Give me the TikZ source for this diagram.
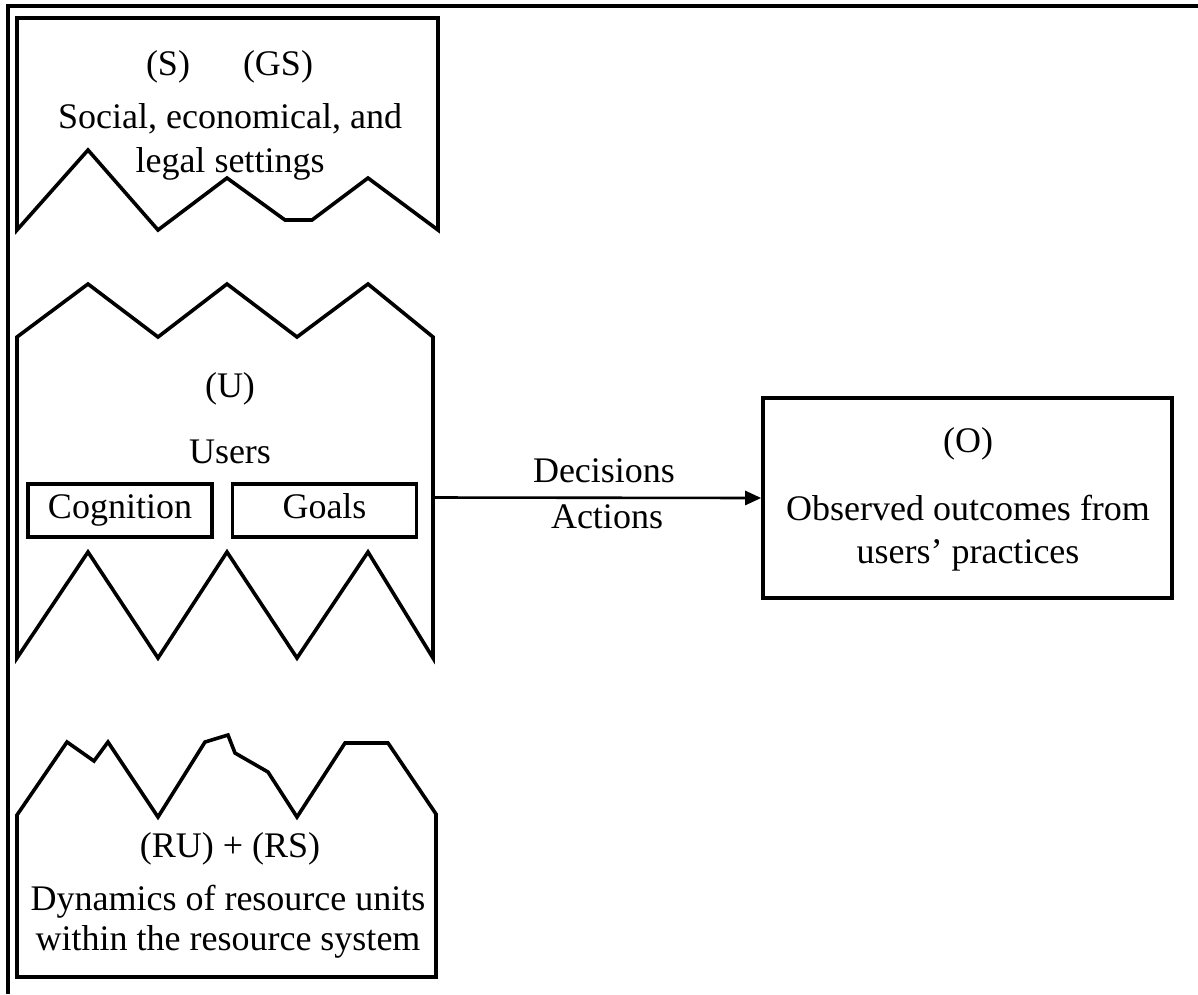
\documentclass[tikz,border=0pt]{standalone}
\usepackage{fontspec}
\setmainfont{Liberation Serif}
\usetikzlibrary{arrows.meta}
\begin{document}
\begin{tikzpicture}[x=1pt,y=-1pt,
  outline/.style={line width=3.6pt, line join=miter},
  txt/.style={font=\fontsize{36}{44}\selectfont, inner sep=0pt, anchor=base},
  subbox/.style={draw, line width=3.6pt, minimum width=184pt, minimum height=53pt,
    inner sep=0pt, text height=25pt, text depth=10pt, font=\fontsize{36}{44}\selectfont},
]
\useasboundingbox (0,0) rectangle (1198,994);

% frame along the top and left
\draw[line width=3.2pt] (8,994) -- (8,6) -- (1198,6);

% settings (top) with a jagged lower edge
\draw[outline] (17,230) -- (17,18) -- (438,18) -- (438,230) -- (368,178) -- (312,220)
  -- (285,220) -- (227,178) -- (158,230) -- (88,150) -- cycle;
\node[txt] (s)  at (168,75) {(S)};
\node[txt] (gs) at (278,75) {(GS)};
\node[txt] (set1) at (230,128) {Social, economical, and};
\node[txt] (set2) at (230,172) {legal settings};

% users, jagged at top and bottom
\draw[outline] (17,658) -- (17,337) -- (88,284) -- (158,337) -- (227,284) -- (297,337)
  -- (368,284) -- (433,337) -- (433,658) -- (368,552) -- (297,658) -- (227,552)
  -- (158,658) -- (88,552) -- cycle;
\node[minimum width=416pt, minimum height=321pt, inner sep=0pt, outer sep=0pt] (users) at (225,497.5) {};
\node[txt] (u) at (230,397) {(U)};
\node[txt] (ulabel) at (230,463) {Users};
\node[subbox] (cog) at (120,510.5) {Cognition};
\node[subbox] (goals) at (324.5,510.5) {Goals};

% resource system with an irregular ridge
\draw[outline] (17,977) -- (17,815) -- (67,742) -- (94,761) -- (108,742) -- (158,817)
  -- (205,742) -- (228,735) -- (235,753) -- (268,772) -- (297,817) -- (345,743)
  -- (388,743) -- (436,814) -- (436,977) -- cycle;
\node[txt] (rurs) at (230,857) {(RU) + (RS)};
\node[txt] (dyn1) at (228,910) {Dynamics of resource units};
\node[txt] (dyn2) at (228,950) {within the resource system};

% outcomes
\node[draw, line width=3.6pt, minimum width=409pt, minimum height=200pt] (outcome) at (967.5,498) {};
\node[txt] (o) at (968,452) {(O)};
\node[txt] (o1) at (968,520) {Observed outcomes from};
\node[txt] (o2) at (968,563) {users’ practices};

% decisions / actions
\draw[line width=2.6pt, -{Triangle[length=16pt,width=14pt]}] (users.east) -- (outcome.west);
\node[txt] (dec) at (604,482) {Decisions};
\node[txt] (act) at (607,528) {Actions};
\end{tikzpicture}
\end{document}
